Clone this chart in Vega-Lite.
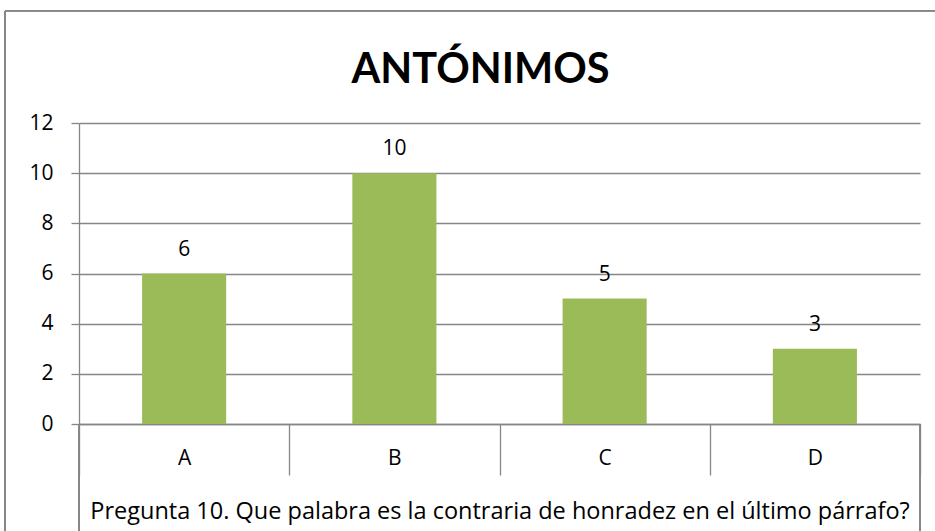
{
  "$schema": "https://vega.github.io/schema/vega-lite/v6.json",
  "width": 841,
  "height": 301,
  "autosize": {"type": "none"},
  "padding": {"left": 79, "top": 123, "right": 15, "bottom": 107},
  "background": "white",
  "config": {
    "view": {"stroke": null},
    "font": "Open Sans"
  },
  "title": {
    "text": "ANTÓNIMOS",
    "font": "Lato",
    "fontSize": 41.5,
    "fontWeight": "bold",
    "color": "black",
    "anchor": "middle",
    "baseline": "alphabetic",
    "dx": -19,
    "offset": -114
  },
  "data": {
    "values": [
      {"opcion": "A", "cantidad": 6},
      {"opcion": "B", "cantidad": 10},
      {"opcion": "C", "cantidad": 5},
      {"opcion": "D", "cantidad": 3}
    ]
  },
  "layer": [
    {
      "layer": [
        {
          "mark": {"type": "bar", "color": "#9BBB59", "width": {"band": 0.4}},
          "encoding": {
            "x": {
              "field": "opcion",
              "type": "nominal",
              "scale": {"paddingInner": 0, "paddingOuter": 0},
              "axis": {
                "labelAngle": 0,
                "tickBand": "extent",
                "tickSize": 51,
                "tickColor": "#868686",
                "tickWidth": 1.3,
                "domainColor": "#868686",
                "domainWidth": 1.3,
                "labelFont": "Open Sans",
                "labelFontSize": 21,
                "labelColor": "black",
                "labelPadding": -17,
                "labelBaseline": "middle",
                "title": "Pregunta 10. Que palabra es la contraria de honradez en el último párrafo?",
                "titleFont": "Open Sans",
                "titleFontSize": 23.5,
                "titleFontWeight": "normal",
                "titleColor": "black",
                "titlePadding": 24
              }
            },
            "y": {
              "field": "cantidad",
              "type": "quantitative",
              "scale": {"domain": [0, 12], "nice": false},
              "axis": {
                "values": [0, 2, 4, 6, 8, 10, 12],
                "title": null,
                "grid": true,
                "gridColor": "#868686",
                "gridWidth": 1.3,
                "tickSize": 8,
                "tickColor": "#868686",
                "tickWidth": 1.3,
                "domainColor": "#868686",
                "domainWidth": 1.3,
                "labelFont": "Open Sans",
                "labelFontSize": 21,
                "labelColor": "black",
                "labelPadding": 18
              }
            }
          }
        },
        {
          "mark": {"type": "text", "font": "Open Sans", "fontSize": 21, "color": "black", "baseline": "alphabetic", "dy": -18},
          "encoding": {
            "x": {"field": "opcion", "type": "nominal"},
            "y": {"field": "cantidad", "type": "quantitative"},
            "text": {"field": "cantidad", "type": "quantitative"}
          }
        }
      ]
    },
    {
      "mark": {"type": "rule", "color": "#868686", "strokeWidth": 1.3, "clip": false},
      "encoding": {
        "x": {"datum": 0, "type": "quantitative", "scale": {"domain": [0, 1], "nice": false, "zero": false}, "axis": null},
        "y": {"datum": 0, "type": "quantitative"},
        "y2": {"datum": -4.3}
      }
    },
    {
      "mark": {"type": "rule", "color": "#868686", "strokeWidth": 1.3, "clip": false},
      "encoding": {
        "x": {"datum": 1, "type": "quantitative", "scale": {"domain": [0, 1], "nice": false, "zero": false}, "axis": null},
        "y": {"datum": 0, "type": "quantitative"},
        "y2": {"datum": -4.3}
      }
    },
    {
      "mark": {"type": "rule", "color": "#868686", "strokeWidth": 1.3, "clip": false},
      "encoding": {
        "x": {"datum": -0.088, "type": "quantitative", "scale": {"domain": [0, 1], "nice": false, "zero": false}, "axis": null},
        "y": {"datum": 16.47, "type": "quantitative"},
        "y2": {"datum": -4.3}
      }
    },
    {
      "mark": {"type": "rule", "color": "#868686", "strokeWidth": 1.3, "clip": false},
      "encoding": {
        "x": {"datum": -0.088, "type": "quantitative", "scale": {"domain": [0, 1], "nice": false, "zero": false}, "axis": null},
        "x2": {"datum": 1.02},
        "y": {"datum": 16.47, "type": "quantitative"}
      }
    }
  ],
  "resolve": {"scale": {"x": "independent"}}
}
